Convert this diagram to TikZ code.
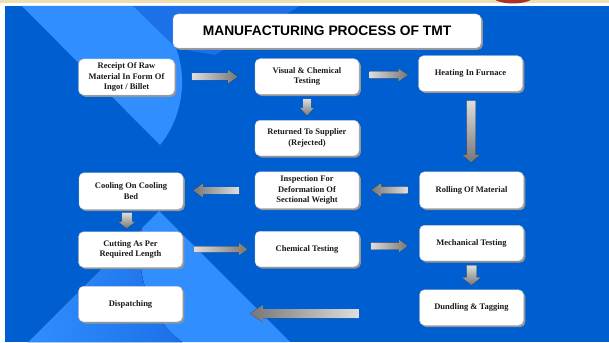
\documentclass[tikz,border=0pt]{standalone}
\usepackage{fontspec}
\setmainfont{Liberation Serif}
\newfontfamily\headfont{Liberation Sans}
\usetikzlibrary{calc,shadows}

\definecolor{bgblue}{RGB}{0,95,208}
\definecolor{lightblue}{RGB}{48,142,255}
\definecolor{midblue}{RGB}{28,112,232}
\definecolor{beige}{RGB}{236,224,178}
\definecolor{logored}{RGB}{170,50,40}
\definecolor{boxshade}{RGB}{150,150,150}
\definecolor{boxedge}{RGB}{200,200,200}
\definecolor{boxtext}{RGB}{25,25,25}
\definecolor{arrlight}{RGB}{222,222,222}
\definecolor{arrdark}{RGB}{118,118,118}

\tikzset{
  procbox/.style={draw=boxedge, fill=white, rounded corners=5pt,
    minimum width=104pt, minimum height=35.5pt, inner sep=1pt,
    align=center, text=boxtext,
    font=\fontsize{8.5}{10.5}\selectfont\bfseries,
    drop shadow={shadow xshift=1.8pt, shadow yshift=-1.8pt, fill=boxshade, opacity=1}},
  titlebox/.style={procbox, minimum width=308pt, minimum height=34pt,
    text=black, font=\headfont\bfseries\fontsize{13.8}{16}\selectfont},
  % block arrows: length, shaft, head width, head length
  pics/arrR/.style n args={4}{code={
    \fill[left color=arrlight, right color=arrdark]
      (-#1/2,-#2/2) -- (#1/2-#4,-#2/2) -- (#1/2-#4,-#3/2) -- (#1/2,0)
      -- (#1/2-#4,#3/2) -- (#1/2-#4,#2/2) -- (-#1/2,#2/2) -- cycle;}},
  pics/arrL/.style n args={4}{code={
    \fill[left color=arrdark, right color=arrlight]
      (#1/2,-#2/2) -- (-#1/2+#4,-#2/2) -- (-#1/2+#4,-#3/2) -- (-#1/2,0)
      -- (-#1/2+#4,#3/2) -- (-#1/2+#4,#2/2) -- (#1/2,#2/2) -- cycle;}},
  pics/arrD/.style n args={4}{code={
    \fill[top color=arrlight, bottom color=arrdark]
      (-#2/2,-#1/2) -- (-#2/2,#1/2-#4) -- (-#3/2,#1/2-#4) -- (0,#1/2)
      -- (#3/2,#1/2-#4) -- (#2/2,#1/2-#4) -- (#2/2,-#1/2) -- cycle;}},
}

\begin{document}
\begin{tikzpicture}[x=1pt, y=-1pt]
\useasboundingbox (0,0) rectangle (609,342);

% page background
\fill[white] (0,0) rectangle (609,342);
\fill[beige] (0,0) rectangle (609,3.5);
\begin{scope}
  \clip (480,0) rectangle (545,3.5);
  \fill[logored] (513,-5) ellipse (22 and 8.5);
\end{scope}
\fill[bgblue] (5,6) rectangle (609,342);
\begin{scope}
  \clip (5,6) rectangle (609,342);
  \fill[midblue] (133,6) -- (300,6) -- (215,55) -- (176,48) -- cycle;
  \fill[lightblue] (22,6) -- (133,6) -- (176,48)
    .. controls (188,80) and (182,118) .. (160,145) -- cycle;
  \fill[lightblue] (28,342) -- (159,211) -- (290,342) -- cycle;
  \fill[left color=lightblue, right color=midblue] (28,342) -- (142,228)
    .. controls (134,270) and (148,318) .. (182,342) -- cycle;
\end{scope}

% title
\node[titlebox] (title) at (327,31) {MANUFACTURING PROCESS OF TMT};

% process steps
\node[procbox, minimum width=96pt, minimum height=36pt] (receipt) at (126.5,77)
  {Receipt Of Raw\\Material In Form Of\\Ingot / Billet};
\node[procbox] (visual) at (307,76.5) {Visual \& Chemical\\Testing};
\node[procbox] (heating) at (470.5,73.5) {Heating In Furnace};
\node[procbox] (returned) at (307,138) {Returned To Supplier\\(Rejected)};
\node[procbox, minimum height=36.5pt] (cooling) at (131,191) {Cooling On Cooling\\Bed};
\node[procbox, minimum height=36.5pt] (inspection) at (307,190)
  {Inspection For\\Deformation Of\\Sectional Weight};
\node[procbox, minimum height=36.5pt] (rolling) at (471.5,190) {Rolling Of Material};
\node[procbox] (cutting) at (130.5,249.5) {Cutting As Per\\Required Length};
\node[procbox] (chemical) at (307,249) {Chemical Testing};
\node[procbox] (mechanical) at (471.5,243) {Mechanical Testing};
\node[procbox] (bundling) at (471.5,307.5) {Dundling \& Tagging};
\node[procbox] (dispatching) at (130.5,304) {Dispatching};

% flow arrows
\pic at ($(receipt.east)!0.5!(visual.west)$) {arrR={46}{7}{14}{10}};
\pic at ($(visual.east)!0.5!(heating.west)$) {arrR={39}{7}{13}{10}};
\pic at ($(visual.south)!0.5!(returned.north)$) {arrD={17}{8}{14}{8}};
\pic at ($(heating.south)!0.5!(rolling.north)$) {arrD={62}{9}{18}{8}};
\pic at ($(rolling.west)!0.5!(inspection.east)$) {arrL={36}{7}{14}{10}};
\pic at ($(inspection.west)!0.5!(cooling.east)+(-3,0)$) {arrL={46}{7}{14}{10}};
\pic at ($(cooling.south)!0.5!(cutting.north)+(-4,0)$) {arrD={16}{10}{17}{7}};
\pic at ($(cutting.east)!0.5!(chemical.west)+(2,0)$) {arrR={54}{6}{13}{9}};
\pic at ($(chemical.east)!0.5!(mechanical.west)$) {arrR={37}{7}{13}{9}};
\pic at ($(mechanical.south)!0.5!(bundling.north)$) {arrD={20}{10}{19}{8}};
\pic at ($(bundling.west)+(-115,6)$) {arrL={109}{9}{17}{13}};
\end{tikzpicture}
\end{document}
